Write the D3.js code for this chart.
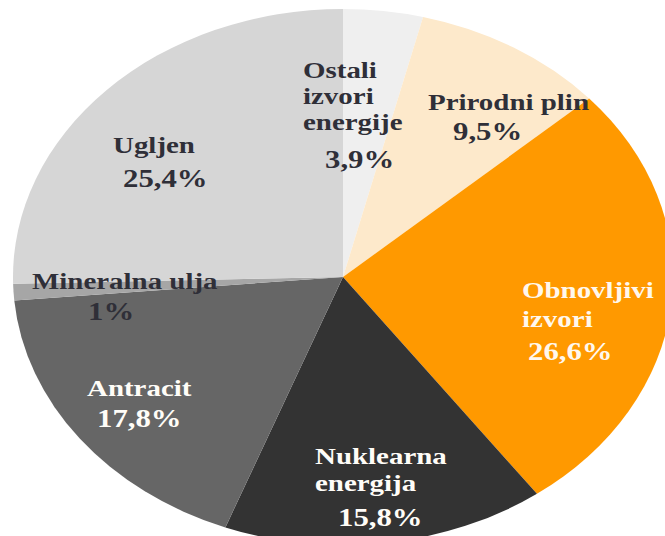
<!DOCTYPE html>
<html>
<head>
<meta charset="utf-8">
<script src="https://cdn.jsdelivr.net/npm/d3@7"></script>
<style>
  html, body { margin: 0; padding: 0; background: #fff; }
  svg text { font-family: "Liberation Serif", "DejaVu Serif", serif; font-weight: bold; }
</style>
</head>
<body>
<div id="container"></div>
<script>
const categories = ["Ostali izvori energije", "Prirodni plin", "Obnovljivi izvori", "Nuklearna energija", "Antracit", "Mineralna ulja", "Ugljen"];
const values = [3.9, 9.5, 26.6, 15.8, 17.8, 1, 25.4];
const valueLabels = ["3,9%", "9,5%", "26,6%", "15,8%", "17,8%", "1%", "25,4%"];
const nameLines = [["Ostali", "izvori", "energije"], ["Prirodni plin"], ["Obnovljivi", "izvori"], ["Nuklearna", "energija"], ["Antracit"], ["Mineralna ulja"], ["Ugljen"]];

const colors = ["#efefef", "#fde9cb", "#ff9900", "#333333", "#666666", "#a6a6a6", "#d6d6d6"];
const textColors = ["#2f2f38", "#2f2f38", "#fff8ee", "#fffdf8", "#fffdf8", "#2f2f38", "#2f2f38"];

// label layout: first line x / baselines, percent x / baseline (screen px)
const labelPos = [
  { x: 303, ys: [78, 104, 130], px: 325, py: 168 },
  { x: 428, ys: [110], px: 453, py: 140 },
  { x: 522, ys: [298, 327], px: 528, py: 360 },
  { x: 315, ys: [464, 491], px: 338, py: 526 },
  { x: 87, ys: [396], px: 97, py: 427 },
  { x: 32, ys: [289], px: 88, py: 320 },
  { x: 113, ys: [153], px: 123, py: 187 }
];

const w = 665;
const h = 536;
const cx = 343;
const cy = 277;
const ry = 268;
const sx = 330 / 268;

const svg = d3.select("#container")
  .append("svg")
  .attr("width", w)
  .attr("height", h);

const pie = d3.pie().sort(null).value((d) => d);
const arc = d3.arc().innerRadius(0).outerRadius(ry);

svg.append("g")
  .attr("transform", `translate(${cx},${cy}) scale(${sx},1)`)
  .selectAll("path")
  .data(pie(values))
  .enter()
  .append("path")
  .attr("d", arc)
  .attr("fill", (d, i) => colors[i]);

const labels = svg.append("g");

categories.forEach((c, i) => {
  const p = labelPos[i];
  nameLines[i].forEach((line, j) => {
    labels.append("text")
      .attr("transform", `translate(${p.x},${p.ys[j]}) scale(${sx},1)`)
      .attr("fill", textColors[i])
      .style("font-size", "23.5px")
      .text(line);
  });
  labels.append("text")
    .attr("transform", `translate(${p.px},${p.py}) scale(${sx},1)`)
    .attr("fill", textColors[i])
    .style("font-size", "25px")
    .text(valueLabels[i]);
});
</script>
</body>
</html>
